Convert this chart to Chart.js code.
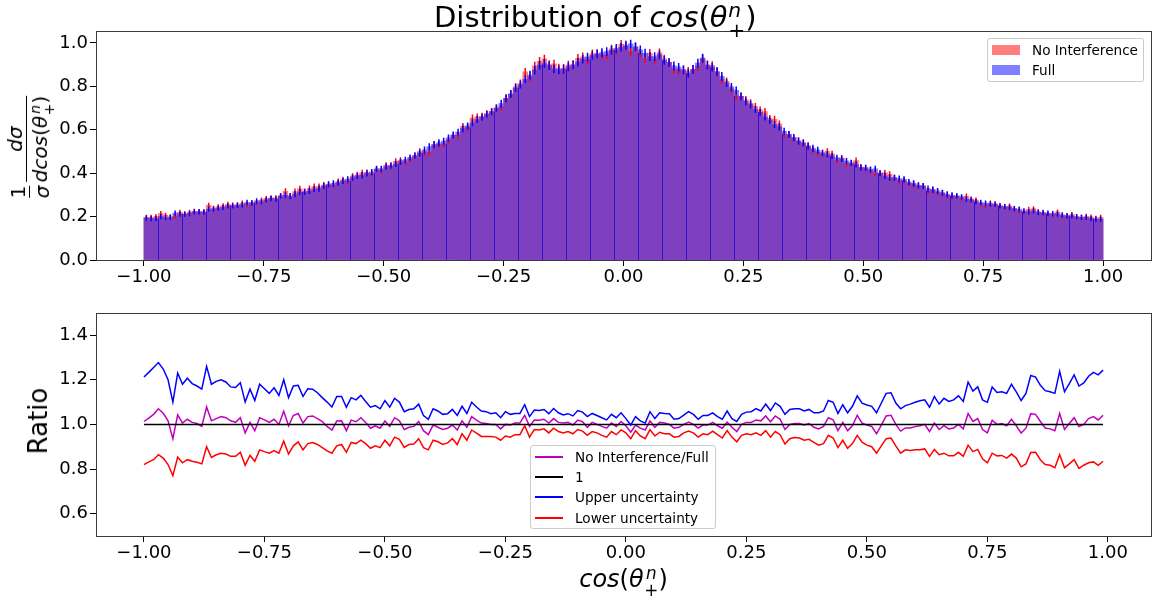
<!DOCTYPE html>
<html>
<head>
<meta charset="utf-8">
<script src="https://cdn.jsdelivr.net/npm/chart.js@4.4.1/dist/chart.umd.min.js"></script>
<style>
  body { margin: 0; background: #fff; font-family: 'DejaVu Sans', sans-serif; }
  #wrap { position: relative; width: 1166px; height: 599px; overflow: hidden; }
  canvas { position: absolute; left: 0; }
  #histChart { top: 0; }
  #ratioChart { top: 300px; }
  .mi { font-style: italic; }
  .ss { display: inline-flex; flex-direction: column; font-size: 0.7em; line-height: 1; vertical-align: 0.5em; margin-left: 0.04em; }
  .frac { display: inline-flex; flex-direction: column; vertical-align: middle; padding: 0 0.08em; line-height: 1.1; }
  .frac > span { text-align: center; }
  .frac > .den { border-top: 1px solid #000; padding-top: 1px; }
  #title { position: absolute; left: 434px; top: 0px; font-size: 29px; line-height: 29px; white-space: nowrap; }
  #xlabel { position: absolute; left: 96px; width: 1055px; top: 565px; text-align: center; font-size: 24px; line-height: 24px; white-space: nowrap; }
  .ylab { position: absolute; transform: translate(-50%, -50%) rotate(-90deg); white-space: nowrap; }
  #ylabelTop { left: 30px; top: 147px; font-size: 20px; }
  #ylabelBottom { left: 38px; top: 421px; font-size: 26px; }
  .legend { position: absolute; border: 1px solid #ccc; border-radius: 3px; background: rgba(255,255,255,0.8); box-sizing: border-box; font-size: 13.6px; }
  .legend .row { position: absolute; left: 0; height: 20px; line-height: 20px; white-space: nowrap; }
  .legend .patch { position: absolute; left: 4px; top: 5px; width: 28px; height: 10px; }
  .legend .handle { position: absolute; left: 4px; top: 9px; width: 28px; height: 1.5px; }
  .legend .txt { position: absolute; left: 44px; top: 0; }
</style>
</head>
<body>
<div id="wrap">
  <canvas id="histChart" width="1166" height="300"></canvas>
  <canvas id="ratioChart" width="1166" height="299"></canvas>

  <div id="title">Distribution of <span class="mi">cos</span>(<span class="mi">θ</span><span class="ss"><span class="mi">n</span><span>+</span></span>)</div>
  <div id="xlabel"><span class="mi">cos</span>(<span class="mi">θ</span><span class="ss"><span class="mi">n</span><span>+</span></span>)</div>
  <div id="ylabelTop" class="ylab"><span class="frac"><span>1</span><span class="den"><span class="mi">σ</span></span></span><span class="frac"><span><span class="mi">dσ</span></span><span class="den"><span class="mi">dcos</span>(<span class="mi">θ</span><span class="ss"><span class="mi">n</span><span>+</span></span>)</span></span></div>
  <div id="ylabelBottom" class="ylab">Ratio</div>

  <div class="legend" style="left:987px; top:38px; width:157px; height:44px;">
    <div class="row" style="top:1px; width:150px;"><span class="patch" style="background:rgba(255,0,0,0.5)"></span><span class="txt">No Interference</span></div>
    <div class="row" style="top:21px; width:150px;"><span class="patch" style="background:rgba(0,0,255,0.5)"></span><span class="txt">Full</span></div>
  </div>

  <div class="legend" style="left:530px; top:445px; width:186px; height:84px;">
    <div class="row" style="top:1px; width:180px;"><span class="handle" style="background:#bf00bf"></span><span class="txt">No Interference/Full</span></div>
    <div class="row" style="top:21px; width:180px;"><span class="handle" style="background:#000"></span><span class="txt">1</span></div>
    <div class="row" style="top:41px; width:180px;"><span class="handle" style="background:#0000ff"></span><span class="txt">Upper uncertainty</span></div>
    <div class="row" style="top:62px; width:180px;"><span class="handle" style="background:#ff0000"></span><span class="txt">Lower uncertainty</span></div>
  </div>
</div>

<script>
// bins: 200 bins of width 0.01 from -1 to 1
const xStart = -1.0;
const binWidth = 0.01;
const nBins = 200;
const binLeft = Array.from({ length: nBins }, (_, i) => +(xStart + i * binWidth).toFixed(2));

const xTickValues = [-1.0, -0.75, -0.5, -0.25, 0.0, 0.25, 0.5, 0.75, 1.0];
const histYTicks = [0.0, 0.2, 0.4, 0.6, 0.8, 1.0];
const ratioYTicks = [0.6, 0.8, 1.0, 1.2, 1.4];

// normalised histograms
const noInterference = [
  0.196, 0.196, 0.200, 0.214, 0.206, 0.199, 0.202, 0.220, 0.212, 0.219,
  0.224, 0.223, 0.220, 0.252, 0.238, 0.245, 0.250, 0.256, 0.253, 0.254,
  0.262, 0.255, 0.264, 0.264, 0.276, 0.283, 0.286, 0.286, 0.295, 0.316,
  0.293, 0.315, 0.328, 0.315, 0.329, 0.338, 0.338, 0.345, 0.346, 0.344,
  0.361, 0.370, 0.362, 0.386, 0.392, 0.402, 0.403, 0.398, 0.417, 0.413,
  0.436, 0.432, 0.455, 0.459, 0.451, 0.466, 0.478, 0.499, 0.493, 0.498,
  0.530, 0.533, 0.534, 0.552, 0.574, 0.574, 0.615, 0.610, 0.654, 0.659,
  0.662, 0.674, 0.683, 0.700, 0.706, 0.745, 0.763, 0.797, 0.813, 0.866,
  0.844, 0.893, 0.915, 0.926, 0.900, 0.903, 0.884, 0.883, 0.898, 0.897,
  0.929, 0.936, 0.923, 0.950, 0.950, 0.946, 0.944, 0.972, 0.966, 0.993,
  0.984, 0.960, 0.980, 0.952, 0.929, 0.952, 0.925, 0.954, 0.926, 0.910,
  0.879, 0.876, 0.876, 0.869, 0.878, 0.892, 0.927, 0.896, 0.896, 0.864,
  0.832, 0.823, 0.787, 0.756, 0.754, 0.738, 0.722, 0.707, 0.691, 0.684,
  0.652, 0.648, 0.627, 0.579, 0.578, 0.565, 0.549, 0.538, 0.526, 0.508,
  0.496, 0.490, 0.501, 0.489, 0.458, 0.470, 0.443, 0.445, 0.458, 0.428,
  0.424, 0.413, 0.402, 0.399, 0.402, 0.395, 0.379, 0.364, 0.366, 0.353,
  0.349, 0.342, 0.341, 0.318, 0.325, 0.311, 0.308, 0.297, 0.293, 0.295,
  0.285, 0.294, 0.281, 0.276, 0.259, 0.252, 0.262, 0.257, 0.250, 0.245,
  0.248, 0.236, 0.225, 0.222, 0.233, 0.236, 0.222, 0.215, 0.212, 0.208,
  0.221, 0.203, 0.204, 0.209, 0.198, 0.196, 0.201, 0.198, 0.192, 0.196
];

const full = [
  0.193, 0.191, 0.191, 0.200, 0.196, 0.196, 0.216, 0.211, 0.211, 0.214,
  0.222, 0.222, 0.222, 0.234, 0.234, 0.239, 0.242, 0.249, 0.249, 0.252,
  0.254, 0.265, 0.262, 0.272, 0.268, 0.277, 0.283, 0.280, 0.295, 0.298,
  0.295, 0.303, 0.313, 0.313, 0.318, 0.326, 0.329, 0.341, 0.349, 0.353,
  0.356, 0.364, 0.372, 0.379, 0.387, 0.390, 0.399, 0.405, 0.420, 0.420,
  0.430, 0.436, 0.442, 0.452, 0.462, 0.472, 0.482, 0.493, 0.507, 0.522,
  0.532, 0.540, 0.547, 0.562, 0.576, 0.589, 0.605, 0.618, 0.632, 0.647,
  0.658, 0.671, 0.683, 0.700, 0.720, 0.745, 0.765, 0.792, 0.808, 0.832,
  0.852, 0.875, 0.898, 0.905, 0.895, 0.880, 0.876, 0.878, 0.890, 0.900,
  0.912, 0.925, 0.935, 0.942, 0.950, 0.955, 0.960, 0.966, 0.975, 0.980,
  0.990, 0.995, 0.983, 0.968, 0.953, 0.937, 0.937, 0.945, 0.920, 0.910,
  0.894, 0.888, 0.876, 0.860, 0.878, 0.907, 0.930, 0.899, 0.888, 0.869,
  0.846, 0.815, 0.797, 0.781, 0.754, 0.731, 0.716, 0.693, 0.680, 0.659,
  0.644, 0.624, 0.613, 0.593, 0.578, 0.563, 0.547, 0.540, 0.524, 0.515,
  0.506, 0.494, 0.486, 0.479, 0.471, 0.466, 0.456, 0.448, 0.440, 0.425,
  0.425, 0.417, 0.420, 0.400, 0.387, 0.379, 0.379, 0.375, 0.372, 0.359,
  0.353, 0.344, 0.341, 0.329, 0.323, 0.318, 0.310, 0.303, 0.298, 0.295,
  0.291, 0.280, 0.277, 0.269, 0.265, 0.262, 0.257, 0.257, 0.249, 0.246,
  0.242, 0.237, 0.234, 0.226, 0.222, 0.226, 0.219, 0.219, 0.216, 0.214,
  0.211, 0.208, 0.203, 0.203, 0.200, 0.196, 0.196, 0.191, 0.188, 0.188
];

// half height of the error bars
const histErr = [
  0.012, 0.012, 0.012, 0.012, 0.012, 0.012, 0.012, 0.012, 0.012, 0.012,
  0.012, 0.012, 0.012, 0.012, 0.012, 0.012, 0.012, 0.012, 0.012, 0.012,
  0.012, 0.012, 0.012, 0.012, 0.012, 0.012, 0.012, 0.012, 0.012, 0.014,
  0.014, 0.014, 0.014, 0.014, 0.014, 0.014, 0.014, 0.014, 0.014, 0.014,
  0.014, 0.014, 0.014, 0.014, 0.014, 0.014, 0.014, 0.014, 0.014, 0.014,
  0.014, 0.014, 0.014, 0.014, 0.014, 0.014, 0.014, 0.016, 0.016, 0.016,
  0.016, 0.016, 0.016, 0.016, 0.016, 0.016, 0.016, 0.016, 0.016, 0.016,
  0.016, 0.016, 0.016, 0.016, 0.018, 0.018, 0.018, 0.018, 0.018, 0.018,
  0.020, 0.020, 0.020, 0.020, 0.020, 0.020, 0.020, 0.020, 0.020, 0.020,
  0.020, 0.020, 0.020, 0.020, 0.020, 0.020, 0.020, 0.020, 0.020, 0.020,
  0.020, 0.020, 0.020, 0.020, 0.020, 0.020, 0.020, 0.020, 0.020, 0.020,
  0.020, 0.020, 0.020, 0.020, 0.020, 0.020, 0.020, 0.020, 0.020, 0.020,
  0.020, 0.018, 0.018, 0.018, 0.018, 0.018, 0.018, 0.016, 0.016, 0.016,
  0.016, 0.016, 0.016, 0.016, 0.016, 0.016, 0.016, 0.016, 0.016, 0.016,
  0.016, 0.014, 0.014, 0.014, 0.014, 0.014, 0.014, 0.014, 0.014, 0.014,
  0.014, 0.014, 0.014, 0.014, 0.014, 0.014, 0.014, 0.014, 0.014, 0.014,
  0.014, 0.014, 0.014, 0.014, 0.014, 0.014, 0.014, 0.014, 0.014, 0.012,
  0.012, 0.012, 0.012, 0.012, 0.012, 0.012, 0.012, 0.012, 0.012, 0.012,
  0.012, 0.012, 0.012, 0.012, 0.012, 0.012, 0.012, 0.012, 0.012, 0.012,
  0.012, 0.012, 0.012, 0.012, 0.012, 0.012, 0.012, 0.012, 0.012, 0.012
];

// ratio panel, one point per bin (left edge)
const ratio = [
  1.013, 1.028, 1.045, 1.070, 1.050, 1.016, 0.936, 1.043, 1.006, 1.023,
  1.009, 1.004, 0.991, 1.078, 1.016, 1.026, 1.035, 1.030, 1.016, 1.009,
  1.030, 0.962, 1.009, 0.972, 1.030, 1.020, 1.009, 1.023, 1.000, 1.059,
  0.994, 1.040, 1.049, 1.006, 1.035, 1.038, 1.026, 1.013, 0.991, 0.974,
  1.015, 1.016, 0.972, 1.019, 1.012, 1.030, 1.009, 0.983, 0.994, 0.983,
  1.015, 0.991, 1.030, 1.016, 0.977, 0.987, 0.991, 1.013, 0.972, 0.954,
  0.997, 0.987, 0.977, 0.983, 0.997, 0.975, 1.016, 0.987, 1.035, 1.019,
  1.006, 1.004, 1.000, 1.000, 0.980, 1.000, 0.997, 1.006, 1.006, 1.041,
  0.991, 1.020, 1.019, 1.023, 1.006, 1.026, 1.009, 1.006, 1.009, 0.997,
  1.019, 1.012, 0.987, 1.009, 1.000, 0.991, 0.983, 1.006, 0.991, 1.013,
  0.994, 0.965, 0.997, 0.983, 0.975, 1.016, 0.987, 1.009, 1.006, 1.000,
  0.983, 0.987, 1.000, 1.010, 1.000, 0.983, 0.997, 0.997, 1.009, 0.994,
  0.983, 1.010, 0.987, 0.968, 1.000, 1.009, 1.009, 1.020, 1.016, 1.038,
  1.012, 1.038, 1.023, 0.977, 1.000, 1.004, 1.004, 0.997, 1.004, 0.987,
  0.980, 0.991, 1.030, 1.020, 0.972, 1.009, 0.972, 0.994, 1.041, 1.006,
  0.997, 0.991, 0.958, 0.997, 1.038, 1.041, 1.000, 0.970, 0.984, 0.984,
  0.990, 0.994, 1.000, 0.968, 1.006, 0.977, 0.994, 0.980, 0.984, 1.000,
  0.980, 1.049, 1.013, 1.026, 0.977, 0.962, 1.019, 1.000, 1.004, 0.994,
  1.023, 0.994, 0.961, 0.983, 1.048, 1.045, 1.013, 0.984, 0.980, 0.972,
  1.049, 0.977, 1.004, 1.030, 0.990, 1.000, 1.026, 1.035, 1.020, 1.041
];

const upperUnc = [
  1.212, 1.233, 1.255, 1.277, 1.248, 1.200, 1.100, 1.230, 1.180, 1.207,
  1.183, 1.172, 1.158, 1.260, 1.180, 1.193, 1.200, 1.190, 1.168, 1.165,
  1.187, 1.100, 1.158, 1.107, 1.180, 1.160, 1.139, 1.164, 1.130, 1.200,
  1.120, 1.172, 1.175, 1.125, 1.160, 1.158, 1.142, 1.120, 1.100, 1.078,
  1.125, 1.125, 1.077, 1.120, 1.110, 1.130, 1.103, 1.077, 1.084, 1.070,
  1.107, 1.077, 1.117, 1.100, 1.057, 1.067, 1.070, 1.091, 1.040, 1.023,
  1.070, 1.060, 1.045, 1.048, 1.067, 1.040, 1.081, 1.049, 1.099, 1.078,
  1.060, 1.057, 1.048, 1.052, 1.030, 1.057, 1.045, 1.049, 1.049, 1.088,
  1.035, 1.064, 1.062, 1.067, 1.048, 1.071, 1.052, 1.042, 1.048, 1.038,
  1.062, 1.055, 1.035, 1.049, 1.040, 1.030, 1.020, 1.045, 1.030, 1.052,
  1.026, 0.997, 1.035, 1.016, 1.006, 1.057, 1.026, 1.052, 1.049, 1.048,
  1.023, 1.026, 1.042, 1.057, 1.045, 1.023, 1.040, 1.040, 1.052, 1.035,
  1.023, 1.060, 1.026, 1.013, 1.045, 1.055, 1.057, 1.071, 1.060, 1.091,
  1.062, 1.096, 1.081, 1.045, 1.067, 1.070, 1.070, 1.060, 1.067, 1.052,
  1.052, 1.060, 1.107, 1.099, 1.049, 1.088, 1.052, 1.081, 1.128, 1.095,
  1.087, 1.081, 1.052, 1.096, 1.139, 1.142, 1.096, 1.070, 1.084, 1.091,
  1.099, 1.106, 1.110, 1.077, 1.125, 1.091, 1.117, 1.103, 1.110, 1.128,
  1.103, 1.190, 1.149, 1.168, 1.110, 1.099, 1.168, 1.143, 1.146, 1.139,
  1.180, 1.146, 1.107, 1.139, 1.219, 1.212, 1.175, 1.151, 1.146, 1.139,
  1.238, 1.146, 1.183, 1.222, 1.172, 1.186, 1.216, 1.233, 1.222, 1.243
];

const lowerUnc = [
  0.820, 0.832, 0.842, 0.864, 0.849, 0.820, 0.770, 0.854, 0.828, 0.842,
  0.835, 0.830, 0.823, 0.900, 0.852, 0.864, 0.871, 0.867, 0.857, 0.857,
  0.875, 0.817, 0.861, 0.835, 0.886, 0.878, 0.871, 0.883, 0.871, 0.925,
  0.867, 0.904, 0.922, 0.886, 0.914, 0.919, 0.910, 0.896, 0.881, 0.871,
  0.904, 0.910, 0.875, 0.919, 0.914, 0.929, 0.914, 0.893, 0.904, 0.896,
  0.929, 0.904, 0.943, 0.933, 0.897, 0.910, 0.912, 0.936, 0.896, 0.886,
  0.929, 0.922, 0.910, 0.917, 0.936, 0.910, 0.958, 0.929, 0.975, 0.961,
  0.946, 0.946, 0.946, 0.943, 0.929, 0.948, 0.943, 0.954, 0.954, 0.994,
  0.943, 0.977, 0.975, 0.980, 0.962, 0.983, 0.968, 0.962, 0.968, 0.958,
  0.977, 0.970, 0.951, 0.968, 0.962, 0.951, 0.943, 0.968, 0.954, 0.975,
  0.962, 0.936, 0.972, 0.948, 0.936, 0.977, 0.948, 0.965, 0.958, 0.958,
  0.943, 0.946, 0.962, 0.970, 0.962, 0.943, 0.958, 0.954, 0.970, 0.954,
  0.939, 0.972, 0.943, 0.922, 0.951, 0.958, 0.954, 0.962, 0.951, 0.972,
  0.943, 0.968, 0.954, 0.912, 0.936, 0.941, 0.939, 0.929, 0.933, 0.919,
  0.907, 0.914, 0.951, 0.939, 0.896, 0.929, 0.893, 0.914, 0.951, 0.920,
  0.907, 0.900, 0.871, 0.904, 0.936, 0.939, 0.904, 0.871, 0.886, 0.883,
  0.886, 0.886, 0.890, 0.857, 0.888, 0.864, 0.871, 0.859, 0.859, 0.875,
  0.857, 0.907, 0.878, 0.888, 0.846, 0.828, 0.871, 0.859, 0.861, 0.849,
  0.867, 0.849, 0.810, 0.823, 0.874, 0.875, 0.842, 0.820, 0.817, 0.806,
  0.864, 0.806, 0.823, 0.842, 0.803, 0.817, 0.828, 0.832, 0.817, 0.835
];

// reference line at 1
const unityX = [-1.0, 0.99];
const unityY = [1, 1];

const tickFont = { family: 'DejaVu Sans', size: 18 };
const fmtX = v => v.toFixed(2).replace('-', '\u2212');

// box round each panel
const frame = {
  id: 'frame',
  afterDraw(chart) {
    const { ctx, chartArea: a } = chart;
    ctx.save();
    ctx.strokeStyle = '#3a3a3a';
    ctx.lineWidth = 1;
    const l = Math.round(a.left) + 0.5, t = Math.round(a.top) + 0.5;
    ctx.strokeRect(l, t, Math.round(a.right) - Math.round(a.left), Math.round(a.bottom) - Math.round(a.top));
    ctx.restore();
  }
};

// draw each histogram opaque into a buffer, then lay it down at half opacity
// (same look as matplotlib's alpha=0.5 fill, without seams between bins)
let layerBuf = null;
const halfAlphaLayer = {
  id: 'halfAlphaLayer',
  beforeDatasetDraw(chart, args) {
    if (!layerBuf) layerBuf = document.createElement('canvas');
    layerBuf.width = chart.width;
    layerBuf.height = chart.height;
    args.meta.controller._ctx = layerBuf.getContext('2d');
  },
  afterDatasetDraw(chart, args) {
    args.meta.controller._ctx = chart.ctx;
    chart.ctx.save();
    chart.ctx.globalAlpha = 0.5;
    chart.ctx.drawImage(layerBuf, 0, 0);
    chart.ctx.restore();
  }
};

const errorBars = {
  id: 'errorBars',
  afterDatasetsDraw(chart) {
    const { ctx } = chart;
    const x = chart.scales.x, y = chart.scales.y;
    ctx.save();
    // faint dark seams every few bin edges, as in the saved figure
    ctx.lineWidth = 1;
    ctx.strokeStyle = 'rgba(35,0,215,0.8)';
    ctx.beginPath();
    binLeft.forEach((b, i) => {
      if (i % 5 !== 3) return;
      const px = Math.round(x.getPixelForValue(b)) + 0.5;
      ctx.moveTo(px, y.getPixelForValue(0));
      ctx.lineTo(px, y.getPixelForValue(Math.min(full[i], noInterference[i], full[i - 1], noInterference[i - 1])));
    });
    ctx.stroke();

    ctx.lineWidth = 1.5;
    [[noInterference, 'rgb(255,0,0)'], [full, 'rgb(0,0,255)']].forEach(([vals, col]) => {
      ctx.strokeStyle = col;
      ctx.beginPath();
      vals.forEach((v, i) => {
        const px = x.getPixelForValue(binLeft[i] + binWidth / 2);
        ctx.moveTo(px, y.getPixelForValue(v - histErr[i]));
        ctx.lineTo(px, y.getPixelForValue(v + histErr[i]));
      });
      ctx.stroke();
    });
    ctx.restore();
  }
};

function axisX(min, max) {
  return {
    type: 'linear', min: min, max: max, offset: false,
    afterBuildTicks: ax => { ax.ticks = xTickValues.map(v => ({ value: v })); },
    afterFit: ax => { ax.height = 30; },
    ticks: { font: tickFont, color: '#000', padding: 1, maxRotation: 0, autoSkip: false, callback: v => fmtX(v) },
    grid: { drawOnChartArea: false, offset: false, tickLength: 6, color: '#000', tickWidth: 1 },
    border: { display: false }
  };
}

function axisY(min, max, tickVals) {
  return {
    min: min, max: max,
    afterBuildTicks: ax => { ax.ticks = tickVals.map(v => ({ value: v })); },
    afterFit: ax => { ax.width = 96; },
    ticks: { font: tickFont, color: '#000', padding: 2, callback: v => v.toFixed(1) },
    grid: { drawOnChartArea: false, tickLength: 6, color: '#000', tickWidth: 1 },
    border: { display: false }
  };
}

const histBars = vals => binLeft.map((x, i) => ({ x: x + binWidth / 2, y: vals[i] }));
const linePts = vals => binLeft.map((x, i) => ({ x: x, y: vals[i] }));

new Chart(document.getElementById('histChart'), {
  type: 'bar',
  data: {
    datasets: [
      { label: 'No Interference', data: histBars(noInterference), backgroundColor: 'rgb(255,0,0)',
        borderWidth: 0, inflateAmount: 0.4, grouped: false, barPercentage: 1, categoryPercentage: 1, order: 2 },
      { label: 'Full', data: histBars(full), backgroundColor: 'rgb(0,0,255)',
        borderWidth: 0, inflateAmount: 0.4, grouped: false, barPercentage: 1, categoryPercentage: 1, order: 1 }
    ]
  },
  options: {
    responsive: false, animation: false, devicePixelRatio: 1,
    layout: { padding: { left: 0, right: 15, top: 31, bottom: 10 } },
    plugins: { legend: { display: false }, tooltip: { enabled: false } },
    scales: { x: axisX(-1.1, 1.1), y: axisY(0, 1.055, histYTicks) }
  },
  plugins: [halfAlphaLayer, errorBars, frame]
});

const lineStyle = { pointRadius: 0, borderWidth: 1.5, tension: 0, fill: false };

new Chart(document.getElementById('ratioChart'), {
  type: 'line',
  data: {
    datasets: [
      Object.assign({ label: 'No Interference/Full', data: linePts(ratio), borderColor: '#bf00bf', order: 4 }, lineStyle),
      Object.assign({ label: '1', data: unityX.map((x, i) => ({ x: x, y: unityY[i] })), borderColor: '#000', order: 3 }, lineStyle),
      Object.assign({ label: 'Upper uncertainty', data: linePts(upperUnc), borderColor: '#0000ff', order: 2 }, lineStyle),
      Object.assign({ label: 'Lower uncertainty', data: linePts(lowerUnc), borderColor: '#ff0000', order: 1 }, lineStyle)
    ]
  },
  options: {
    responsive: false, animation: false, devicePixelRatio: 1,
    layout: { padding: { left: 0, right: 15, top: 6, bottom: 33 } },
    plugins: { legend: { display: false }, tooltip: { enabled: false } },
    scales: { x: axisX(-1.0995, 1.0895), y: axisY(0.5, 1.5, ratioYTicks) }
  },
  plugins: [frame]
});
</script>
</body>
</html>
